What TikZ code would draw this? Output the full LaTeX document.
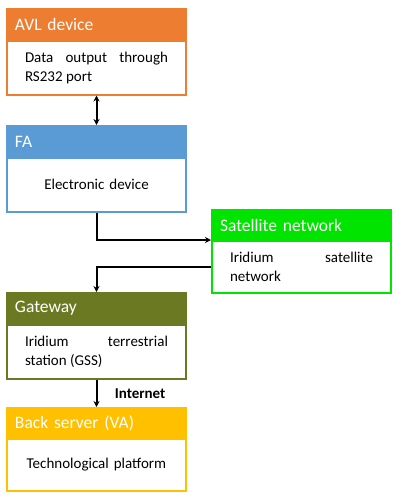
\documentclass[tikz,border=0pt]{standalone}
\usepackage{fontspec}
\setmainfont{Carlito}
\usetikzlibrary{arrows.meta}
\definecolor{avlorange}{HTML}{ED7D31}
\definecolor{fablue}{HTML}{5B9BD5}
\definecolor{satgreen}{HTML}{00E400}
\definecolor{gwolive}{HTML}{6B7A22}
\definecolor{vagold}{HTML}{FFC000}
\hyphenpenalty=10000
\tolerance=10000
\begin{document}
\begin{tikzpicture}[x=1pt,y=-1pt,>={Stealth[length=6pt,width=6pt]},
            head/.style={draw=#1,fill=#1,line width=2pt,minimum width=179pt,minimum height=31pt,
                text width=163pt,align=left,text=white,font=\fontsize{17.5}{20}\selectfont},
            body/.style={draw=#1,fill=white,line width=2pt,minimum width=179pt,minimum height=54pt,
                text width=143pt,font=\fontsize{15}{19}\selectfont},
            link/.style={line width=2pt}]
            \useasboundingbox (0,0) rectangle (413,504);
            \node[head=avlorange] (avlhead) at (96.5,24.5) {AVL device};
            \node[body=avlorange,align=justify] (avlbody) at (96.5,67.5) {Data output through RS232 port};
            \node[head=fablue] (fahead) at (96.5,141.5) {FA};
            \node[body=fablue,align=center] (fabody) at (96.5,184.5) {Electronic device};
            \node[head=satgreen] (sathead) at (301.5,225.5) {Satellite network};
            \node[body=satgreen,minimum height=52pt,align=justify] (satbody) at (301.5,267) {Iridium satellite network};
            \node[head=gwolive] (gwhead) at (96.5,308.5) {Gateway};
            \node[body=gwolive,align=justify] (gwbody) at (96.5,351.5) {Iridium terrestrial station (GSS)};
            \node[head=vagold] (vahead) at (96.5,423.5) {Back server (VA)};
            \node[body=vagold,minimum height=52pt,align=center] (vabody) at (96.5,465) {Technological platform};
            \draw[link,<->] (avlbody) -- (fahead);
            \draw[link,->] (fabody) |- (satbody.north west);
            \draw[link,->] (satbody) -| (gwhead);
            \draw[link,->] (gwbody) -- node[right=14pt,font=\fontsize{15}{17}\selectfont\bfseries] (inet) {Internet} (vahead);
        \end{tikzpicture}
\end{document}
